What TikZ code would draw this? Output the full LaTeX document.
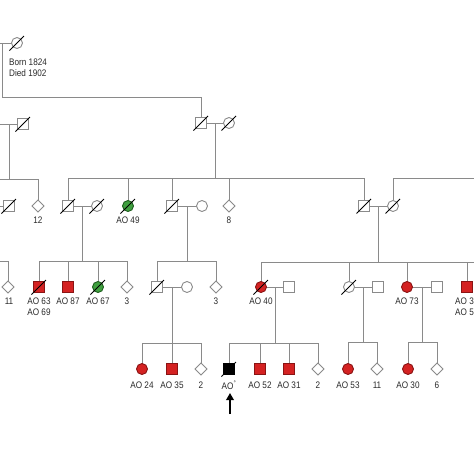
\documentclass[tikz,border=0pt]{standalone}
\usepackage{fontspec}
\newfontfamily\labfont{Liberation Sans}[FakeStretch=0.86]
\usetikzlibrary{shapes.geometric,arrows.meta,calc}
\definecolor{lgray}{HTML}{8A8A8A}
\definecolor{tgray}{HTML}{2A2A2A}
\definecolor{aored}{HTML}{D42222}
\definecolor{aoredd}{HTML}{8A1414}
\definecolor{aogreen}{HTML}{3FA03F}
\definecolor{aogreend}{HTML}{1F5F1F}
\begin{document}
\begin{tikzpicture}[x=1pt,y=-1pt,
  ln/.style={draw=lgray,line width=0.9pt},
  sym/.style={draw=lgray,line width=0.9pt,fill=white,inner sep=0pt},
  sq/.style={sym,rectangle,minimum size=10.5pt},
  ci/.style={sym,circle,minimum size=11pt},
  di/.style={sym,diamond,minimum width=12.5pt,minimum height=12.5pt},
  redf/.style={fill=aored,draw=aoredd},
  grnf/.style={fill=aogreen,draw=aogreend},
  blkf/.style={fill=black,draw=black},
  lab/.style={font=\labfont\fontsize{9.5}{11}\selectfont,text=tgray,inner sep=0pt,align=center},
  slash/.style={draw=black,line width=1pt},
  arr/.style={draw=black,line width=2.2pt,-{Triangle[length=7pt,width=7.5pt]}}]
\useasboundingbox (0,0) rectangle (474,474);
\clip (0,0) rectangle (474,474);
\fill[white] (0,0) rectangle (474,474);

% ---------- coordinates for free ends / sibling lines
\coordinate (L0) at (0,43);
\coordinate (aD) at (2.5,43);
\coordinate (sA) at (0,97);
\coordinate (L1) at (0,124);
\coordinate (bD1) at (9,124);
\coordinate (sB) at (0,179);
\coordinate (sC) at (0,178);
\coordinate (L2) at (0,206);
\coordinate (R1) at (474,178);
\coordinate (sD) at (0,261);
\coordinate (sD2) at (0,262);
\coordinate (R2) at (474,262);
\coordinate (sE) at (0,343);
\coordinate (sE2) at (0,342);
\coordinate (arB) at (230,414);
\coordinate (arT) at (230,393);

% ---------- connectors first (symbols drawn on top)
% Row A
\path[ln] (L0) -- (17,43);
\path[ln] (aD) -- (aD |- sA) -- (201,97) -- (201,123);
% Row B
\path[ln] (L1) -- (23,124);
\path[ln] (bD1) -- (bD1 |- sB);
\path[ln] (sB) -| (38,206);
\path[ln] (201,123) -- (229,123);
\path[ln] (215,123) -- (215,178);
% Row C
\path[ln] (68,178) -- (364,178);
\foreach \x in {68,128,172,229,364} \path[ln] (\x,178) -- (\x,206);
\path[ln] (L2) -- (9,206);
\path[ln] (68,206) -- (97,206);
\path[ln] (172,206) -- (202,206);
\path[ln] (364,206) -- (393,206);
\path[ln] (393,206) |- (R1);
% Row D
\path[ln] (82.5,206) -- (82.5,261);
\path[ln] (39,261) -- (127,261);
\foreach \x in {39,68,98,127} \path[ln] (\x,261) -- (\x,287);
\path[ln] (sD) -| (8,287);
\path[ln] (187,206) -- (187,261);
\path[ln] (157,261) -- (216,261);
\foreach \x in {157,216} \path[ln] (\x,261) -- (\x,287);
\path[ln] (378.5,206) -- (378.5,262);
\path[ln] (261,262) -- (R2);
\foreach \x in {261,349,407,467} \path[ln] (\x,262) -- (\x,287);
\path[ln] (157,287) -- (187,287);
\path[ln] (261,287) -- (289,287);
\path[ln] (349,287) -- (378,287);
\path[ln] (407,287) -- (437,287);
% Row E
\path[ln] (172,287) -- (172,343);
\path[ln] (142,343) -- (201,343);
\foreach \x in {142,172,201} \path[ln] (\x,343) -- (\x,369);
\path[ln] (275,287) -- (275,343);
\path[ln] (229,343) -- (318,343);
\foreach \x in {229,260,289,318} \path[ln] (\x,343) -- (\x,369);
\path[ln] (363.5,287) -- (363.5,342);
\path[ln] (348,342) -- (377,342);
\foreach \x in {348,377} \path[ln] (\x,342) -- (\x,369);
\path[ln] (422,287) -- (422,342);
\path[ln] (408,342) -- (437,342);
\foreach \x in {408,437} \path[ln] (\x,342) -- (\x,369);

% ---------- symbols
\node[ci] (a1) at (17,43) {};
\node[sq] (b1) at (23,124) {};
\node[sq] (b2) at (201,123) {};
\node[ci] (b3) at (229,123) {};
\node[sq] (c0) at (9,206) {};
\node[di] (c1) at (38,206) {};
\node[sq] (c2) at (68,206) {};
\node[ci] (c3) at (97,206) {};
\node[ci,grnf] (c4) at (128,206) {};
\node[sq] (c5) at (172,206) {};
\node[ci] (c6) at (202,206) {};
\node[di] (c7) at (229,206) {};
\node[sq] (c8) at (364,206) {};
\node[ci] (c9) at (393,206) {};
\node[di] (d0) at (8,287) {};
\node[sq,redf] (d1) at (39,287) {};
\node[sq,redf] (d2) at (68,287) {};
\node[ci,grnf] (d3) at (98,287) {};
\node[di] (d4) at (127,287) {};
\node[sq] (d5) at (157,287) {};
\node[ci] (d6) at (187,287) {};
\node[di] (d7) at (216,287) {};
\node[ci,redf] (d8) at (261,287) {};
\node[sq] (d9) at (289,287) {};
\node[ci] (d10) at (349,287) {};
\node[sq] (d11) at (378,287) {};
\node[ci,redf] (d12) at (407,287) {};
\node[sq] (d13) at (437,287) {};
\node[sq,redf] (d14) at (467,287) {};
\node[ci,redf] (e1) at (142,369) {};
\node[sq,redf] (e2) at (172,369) {};
\node[di] (e3) at (201,369) {};
\node[sq,blkf] (e4) at (229,369) {};
\node[sq,redf] (e5) at (260,369) {};
\node[sq,redf] (e6) at (289,369) {};
\node[di] (e7) at (318,369) {};
\node[ci,redf] (e8) at (348,369) {};
\node[di] (e9) at (377,369) {};
\node[ci,redf] (e10) at (408,369) {};
\node[di] (e11) at (437,369) {};

% ---------- deceased slashes
\foreach \n in {a1,b1,b2,b3,c0,c2,c3,c4,c5,c8,c9,d1,d3,d5,d8,d10,e4}
  \draw[slash] ($(\n)+(-7.5,7.5)$) -- ($(\n)+(7,-7)$);

% ---------- labels
\node[lab,anchor=west,align=left] (tA) at (9,67.5) {Born 1824\\Died 1902};
\node[lab] (t1) at ($(c1)+(0,14)$) {12};
\node[lab] (t2) at ($(c4)+(0,14)$) {AO 49};
\node[lab] (t3) at ($(c7)+(0,14)$) {8};
\node[lab] (t4) at ($(d0)+(1,14)$) {11};
\node[lab] (t5) at ($(d1)+(0,20)$) {AO 63\\AO 69};
\node[lab] (t6) at ($(d2)+(0,14)$) {AO 87};
\node[lab] (t7) at ($(d3)+(0,14)$) {AO 67};
\node[lab] (t8) at ($(d4)+(0,14)$) {3};
\node[lab] (t9) at ($(d7)+(0,14)$) {3};
\node[lab] (t10) at ($(d8)+(0,14)$) {AO 40};
\node[lab] (t11) at ($(d12)+(0,14)$) {AO 73};
\node[lab,anchor=west,align=left] (t12) at (455,307) {AO 3\\AO 5};
\node[lab] (u1) at ($(e1)+(0,16)$) {AO 24};
\node[lab] (u2) at ($(e2)+(0,16)$) {AO 35};
\node[lab] (u3) at ($(e3)+(0,16)$) {2};
\node[lab] (u4) at ($(e4)+(0,16)$) {AO\textsuperscript{°}};
\node[lab] (u5) at ($(e5)+(0,16)$) {AO 52};
\node[lab] (u6) at ($(e6)+(0,16)$) {AO 31};
\node[lab] (u7) at ($(e7)+(0,16)$) {2};
\node[lab] (u8) at ($(e8)+(0,16)$) {AO 53};
\node[lab] (u9) at ($(e9)+(0,16)$) {11};
\node[lab] (u10) at ($(e10)+(0,16)$) {AO 30};
\node[lab] (u11) at ($(e11)+(0,16)$) {6};

% ---------- proband arrow
\draw[arr] (arB) -- (arT);
\end{tikzpicture}
\end{document}
